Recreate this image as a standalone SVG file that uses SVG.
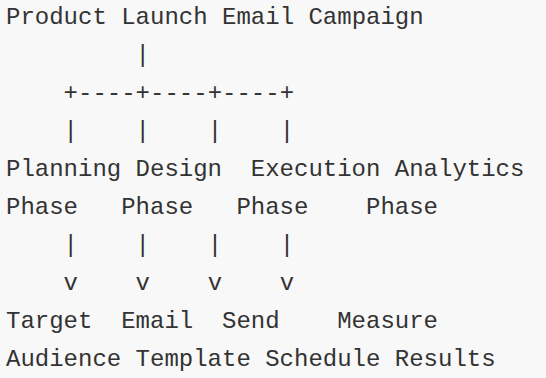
<svg xmlns="http://www.w3.org/2000/svg" width="546" height="378" viewBox="0 0 546 378">
<style>
text{font-family:"Liberation Mono","Courier New",monospace;font-size:24px;fill:#333;white-space:pre}
</style>
<rect width="546" height="378" fill="#f8f8f8"/>
<g id="root"><text x="6" y="24">Product Launch Email Campaign</text></g>
<g id="connectors">
<text x="6" y="62">         |</text>
<text x="6" y="100">    +----+----+----+</text>
<text x="6" y="138">    |    |    |    |</text>
<text x="6" y="252">    |    |    |    |</text>
<text x="6" y="290">    v    v    v    v</text>
</g>
<g id="planning"><text x="6" y="176">Planning</text><text x="6" y="214">Phase</text></g>
<g id="design"><text x="135.6" y="176">Design</text><text x="121.2" y="214">Phase</text></g>
<g id="execution"><text x="250.8" y="176">Execution</text><text x="236.4" y="214">Phase</text></g>
<g id="analytics"><text x="394.8" y="176">Analytics</text><text x="366" y="214">Phase</text></g>
<g id="target"><text x="6" y="328">Target</text><text x="6" y="366">Audience</text></g>
<g id="email"><text x="121.2" y="328">Email</text><text x="135.6" y="366">Template</text></g>
<g id="send"><text x="222" y="328">Send</text><text x="265.2" y="366">Schedule</text></g>
<g id="measure"><text x="337.2" y="328">Measure</text><text x="394.8" y="366">Results</text></g>
</svg>
